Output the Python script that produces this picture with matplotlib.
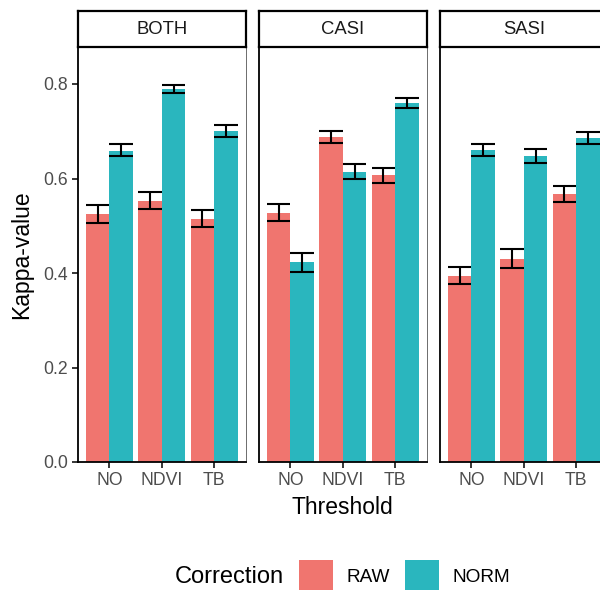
import matplotlib
matplotlib.use('Agg')

import matplotlib.pyplot as plt
import numpy as np
from matplotlib.patches import Rectangle

#=====Data=====
PANELS = ['BOTH', 'CASI', 'SASI']
THRESHOLDS = ['NO', 'NDVI', 'TB']
CORRECTIONS = ['RAW', 'NORM']

raw_mean = {'BOTH': [0.525, 0.553, 0.515], 'CASI': [0.527, 0.688, 0.607], 'SASI': [0.394, 0.430, 0.567]}
raw_lo = {'BOTH': [0.506, 0.535, 0.497], 'CASI': [0.509, 0.675, 0.591], 'SASI': [0.376, 0.410, 0.551]}
raw_hi = {'BOTH': [0.543, 0.572, 0.534], 'CASI': [0.545, 0.701, 0.622], 'SASI': [0.412, 0.451, 0.584]}

norm_mean = {'BOTH': [0.659, 0.789, 0.700], 'CASI': [0.423, 0.614, 0.759], 'SASI': [0.660, 0.648, 0.685]}
norm_lo = {'BOTH': [0.647, 0.780, 0.688], 'CASI': [0.402, 0.598, 0.749], 'SASI': [0.647, 0.633, 0.672]}
norm_hi = {'BOTH': [0.672, 0.798, 0.713], 'CASI': [0.443, 0.631, 0.770], 'SASI': [0.674, 0.662, 0.698]}

COLORS = {'RAW': '#F0756F', 'NORM': '#2AB6BE'}
#==============

plt.rcParams['font.family'] = ['Liberation Sans', 'DejaVu Sans']

W, H = 600, 590
fig = plt.figure(figsize=(W / 100, H / 100), dpi=100)

def fig_rect(x0, y0, x1, y1):
    # pixel box (top-left origin) -> figure fraction
    return [x0 / W, 1 - y1 / H, (x1 - x0) / W, (y1 - y0) / H]

panel_left = [78, 259, 440]
panel_w = 167.6
top, bottom = 47, 462
strip_top = 11
ymax = (bottom - top) / 472.5

bar_w = 0.45
x = np.arange(1, len(THRESHOLDS) + 1)

for i, name in enumerate(PANELS):
    x0 = panel_left[i]
    ax = fig.add_axes(fig_rect(x0, top, x0 + panel_w, bottom))
    series = [
        ('RAW', raw_mean[name], raw_lo[name], raw_hi[name], -bar_w / 2),
        ('NORM', norm_mean[name], norm_lo[name], norm_hi[name], bar_w / 2),
    ]
    for corr, m, lo, hi, off in series:
        xs = x + off
        ax.bar(xs, m, width=bar_w, color=COLORS[corr], linewidth=0, zorder=2)
        ax.vlines(xs, lo, hi, color='black', lw=1.5, zorder=3)
        ax.hlines(lo, xs - bar_w / 2, xs + bar_w / 2, color='black', lw=1.5, zorder=3)
        ax.hlines(hi, xs - bar_w / 2, xs + bar_w / 2, color='black', lw=1.5, zorder=3)

    ax.set_xlim(0.4, 3.6)
    ax.set_ylim(0, ymax)
    ax.set_xticks(x)
    ax.set_xticklabels(THRESHOLDS)
    ax.set_yticks([0, 0.2, 0.4, 0.6, 0.8])
    ax.tick_params(axis='both', labelsize=12.7, labelcolor='#4D4D4D',
                   color='black', width=1.1, length=4, pad=3)
    if i == 0:
        ax.set_yticklabels(['0.0', '0.2', '0.4', '0.6', '0.8'])
    else:
        ax.set_yticklabels([])
        ax.tick_params(axis='y', length=0)
    ax.spines['top'].set_visible(False)
    ax.spines['left'].set_linewidth(1.3)
    ax.spines['bottom'].set_linewidth(1.3)
    ax.spines['right'].set_linewidth(0.6)
    ax.spines['right'].set_color('#555555')

    # facet strip
    sax = fig.add_axes(fig_rect(x0, strip_top, x0 + panel_w, top))
    sax.set_xticks([])
    sax.set_yticks([])
    for s in sax.spines.values():
        s.set_linewidth(1.6)
        s.set_color('black')
    sax.text(0.5, 0.5, name, ha='center', va='center', fontsize=13.3,
             color='#1A1A1A', transform=sax.transAxes)

fig.text(22 / W, 1 - 254.5 / H, 'Kappa-value', rotation=90, ha='center',
         va='center', fontsize=16.5)
fig.text(342.8 / W, 1 - 508 / H, 'Threshold', ha='center', va='center',
         fontsize=16.5)

# legend
leg_y = 577
fig.text(175 / W, 1 - leg_y / H, 'Correction', ha='left', va='center', fontsize=17)
key_x = [299, 405]
for kx, corr in zip(key_x, CORRECTIONS):
    fig.patches.append(Rectangle((kx / W, 1 - (leg_y + 17) / H), 34 / W, 34 / H,
                                 transform=fig.transFigure, facecolor=COLORS[corr],
                                 edgecolor='none'))
    fig.text((kx + 47) / W, 1 - leg_y / H, corr, ha='left', va='center', fontsize=13.7)

plt.savefig('out.png', dpi=100)
